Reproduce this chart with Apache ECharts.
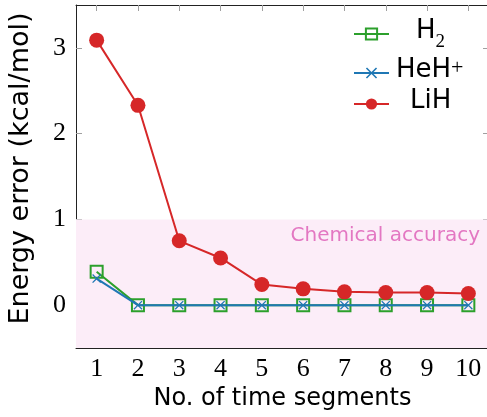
<!DOCTYPE html>
<html>
<head>
<meta charset="utf-8">
<script src="https://cdn.jsdelivr.net/npm/echarts@6/dist/echarts.min.js"></script>
<style>
  html, body { margin: 0; padding: 0; background: #fff; }
  #chart { width: 487px; height: 417px; }
</style>
</head>
<body>
<div id="chart"></div>
<script>
// Number of time segments on the x axis
const segments = ['1', '2', '3', '4', '5', '6', '7', '8', '9', '10'];

// Energy error (kcal/mol) for each molecule
const h2 = [0.39, 0, 0, 0, 0, 0, 0, 0, 0, 0];
const hehPlus = [0.31, 0, 0, 0, 0, 0, 0, 0, 0, 0];
const lih = [3.09, 2.33, 0.75, 0.55, 0.24, 0.19, 0.155, 0.148, 0.148, 0.136];

// Y tick values and the chemical-accuracy band
const yTicks = [0, 1, 2, 3];
const yRange = [-0.5, 3.5];
const accuracyBand = [-0.5, 1];

const GREEN = '#2ca02c';
const BLUE = '#1f77b4';
const RED = '#d62728';
const PINK = '#e377c2';
const TICK = '#a0a0a0';
const SANS = 'DejaVu Sans';
const SERIF = 'Liberation Serif';

const crossSymbol = 'path://M1,0 L5,4 L9,0 L10,1 L6,5 L10,9 L9,10 L5,6 L1,10 L0,9 L4,5 L0,1 Z';

// Legend labels with sub/superscripts; the leading pad centres each name
const legendText = {
  'H2': '{pa| }{n|H}{sub|2}',
  'HeH+': '{pb| }{n|HeH}{sup|+}',
  'LiH': '{pc| }{n|LiH}'
};

const chart = echarts.init(document.getElementById('chart'), null, { renderer: 'canvas' });

const baseX = {
  type: 'category',
  data: segments,
  boundaryGap: true,
  axisLine: { show: true, onZero: false, lineStyle: { color: '#222', width: 1 } },
  axisTick: { show: true, inside: true, alignWithLabel: true, length: 6, lineStyle: { color: TICK } },
  splitLine: { show: false }
};

const baseY = {
  type: 'value',
  min: yRange[0],
  max: yRange[1],
  axisLine: { show: true, onZero: false, lineStyle: { color: '#222', width: 1 } },
  axisTick: { show: true, inside: true, length: 6, customValues: yTicks, lineStyle: { color: TICK } },
  splitLine: { show: false }
};

const padStyle = { lineHeight: 32, verticalAlign: 'top', fontSize: 10 };

chart.setOption({
  animation: false,
  backgroundColor: '#fff',
  grid: { left: 76, top: 5, width: 413, height: 343, containLabel: false, outerBoundsMode: 'none' },
  legend: {
    orient: 'vertical',
    left: 353,
    top: 18,
    padding: 0,
    itemWidth: 35,
    itemHeight: 14,
    itemGap: 5,
    data: ['H2', 'HeH+', 'LiH'],
    formatter: name => legendText[name],
    textStyle: {
      color: '#000',
      fontFamily: SANS,
      fontSize: 26,
      rich: {
        n: { fontFamily: SANS, fontSize: 26, lineHeight: 28, verticalAlign: 'top', color: '#000' },
        sub: { fontFamily: SERIF, fontSize: 19, lineHeight: 17, verticalAlign: 'top', padding: [15, 0, 0, 0], color: '#000' },
        sup: { fontFamily: SERIF, fontSize: 22, lineHeight: 8, verticalAlign: 'top', color: '#000' },
        pa: Object.assign({ width: 22 }, padStyle),
        pb: Object.assign({ width: 2 }, padStyle),
        pc: Object.assign({ width: 16 }, padStyle)
      }
    }
  },
  xAxis: [
    Object.assign({}, baseX, {
      position: 'bottom',
      name: 'No. of time segments',
      nameLocation: 'middle',
      nameGap: 38,
      nameTextStyle: { fontFamily: SANS, fontSize: 24, color: '#000' },
      axisLabel: { show: true, margin: 8, fontFamily: SERIF, fontSize: 26, color: '#000' }
    }),
    Object.assign({}, baseX, { position: 'top', axisLabel: { show: false } })
  ],
  yAxis: [
    Object.assign({}, baseY, {
      position: 'left',
      name: 'Energy error (kcal/mol)',
      nameLocation: 'middle',
      nameGap: 42,
      nameRotate: 90,
      nameTextStyle: { fontFamily: SANS, fontSize: 27, color: '#000', padding: [0, 0, 0, 16] },
      axisLabel: { show: true, margin: 10, customValues: yTicks, fontFamily: SERIF, fontSize: 26, color: '#000' }
    }),
    Object.assign({}, baseY, { position: 'right', axisLabel: { show: false } })
  ],
  series: [
    {
      name: 'H2',
      type: 'line',
      data: h2,
      symbol: 'rect',
      symbolSize: 12,
      lineStyle: { color: GREEN, width: 2 },
      itemStyle: { color: 'rgba(255,255,255,0)', borderColor: GREEN, borderWidth: 2 },
      z: 3,
      markArea: {
        silent: true,
        itemStyle: { color: '#fcedf8' },
        label: {
          show: true,
          position: 'insideTopRight',
          distance: 6,
          offset: [-3, 0],
          formatter: 'Chemical accuracy',
          color: PINK,
          fontFamily: SANS,
          fontSize: 20
        },
        data: [[
          { yAxis: accuracyBand[0] },
          { yAxis: accuracyBand[1] }
        ]]
      }
    },
    {
      name: 'HeH+',
      type: 'line',
      data: hehPlus,
      symbol: crossSymbol,
      symbolSize: 9,
      lineStyle: { color: BLUE, width: 2 },
      itemStyle: { color: BLUE },
      z: 4
    },
    {
      name: 'LiH',
      type: 'line',
      data: lih,
      symbol: 'circle',
      symbolSize: 15,
      lineStyle: { color: RED, width: 2 },
      itemStyle: { color: RED },
      z: 5
    }
  ]
});
</script>
</body>
</html>
